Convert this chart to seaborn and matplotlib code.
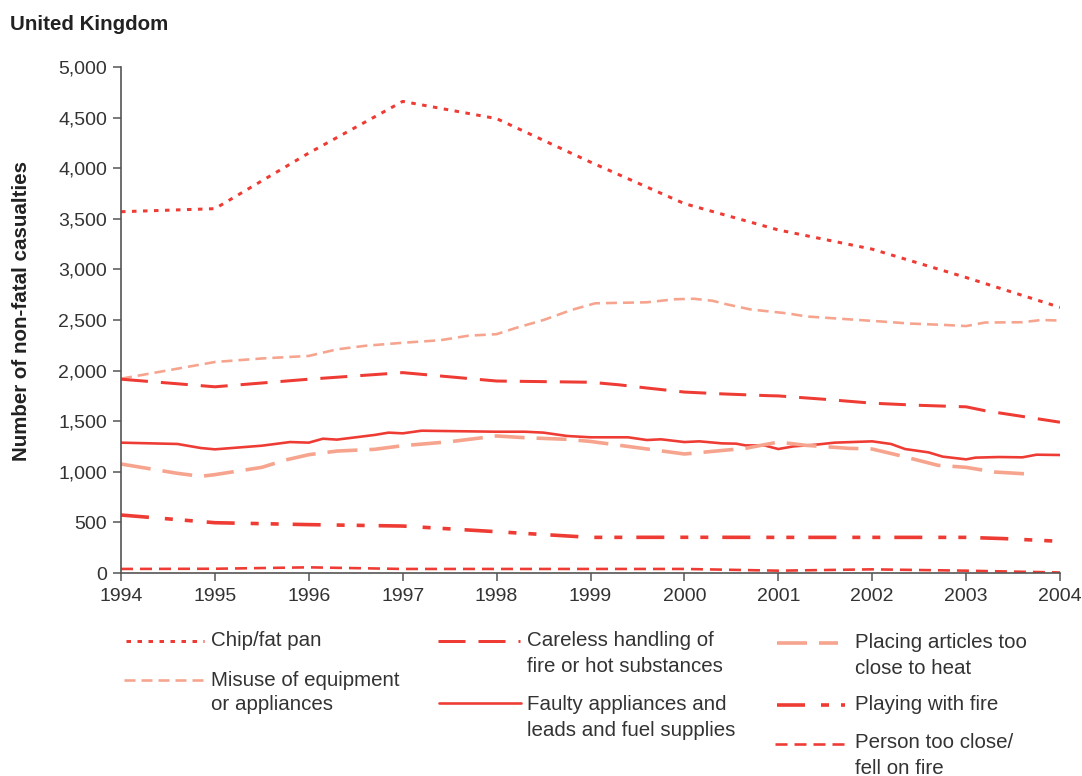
import matplotlib
matplotlib.use("Agg")
import matplotlib.pyplot as plt
from matplotlib.lines import Line2D
from matplotlib.ticker import FuncFormatter, MultipleLocator
import seaborn as sns
import pandas as pd

# ---------------- data ----------------
chip_x = [1994, 1995, 1996, 1997, 1998, 1999, 2000, 2001, 2002, 2003, 2004]
chip_y = [3570, 3600, 4150, 4660, 4490, 4060, 3650, 3390, 3200, 2920, 2625]

misuse_x = [1994, 1995, 1995.5, 1996, 1996.3, 1996.6, 1997, 1997.4, 1997.7, 1998,
            1998.2, 1998.5, 1998.8, 1999.05, 1999.6, 1999.9, 2000.1, 2000.3,
            2000.45, 2000.7, 2001.1, 2001.3, 2001.7, 2002.1, 2002.4, 2002.8,
            2003, 2003.2, 2003.6, 2003.8, 2004]
misuse_y = [1920, 2085, 2120, 2145, 2210, 2245, 2275, 2300, 2345, 2360,
            2420, 2500, 2600, 2665, 2675, 2705, 2710, 2690,
            2655, 2605, 2565, 2535, 2510, 2485, 2465, 2450,
            2440, 2475, 2478, 2500, 2495]

careless_x = [1994, 1995, 1996, 1997, 1998, 1999, 1999.3, 1999.6, 2000, 2000.4,
              2000.9, 2001, 2001.5, 2002, 2002.5, 2003, 2003.2, 2004]
careless_y = [1915, 1840, 1915, 1980, 1897, 1885, 1860, 1828, 1788, 1770,
              1752, 1750, 1716, 1678, 1657, 1642, 1604, 1490]

faulty_x = [1994, 1994.6, 1994.85, 1995, 1995.5, 1995.8, 1996, 1996.15, 1996.3,
            1996.7, 1996.85, 1997, 1997.2, 1998, 1998.3, 1998.5, 1998.75, 1999,
            1999.4, 1999.6, 1999.75, 2000, 2000.16, 2000.4, 2000.55, 2000.65,
            2000.85, 2001, 2001.16, 2001.4, 2001.6, 2002, 2002.2, 2002.35,
            2002.6, 2002.75, 2003, 2003.1, 2003.35, 2003.6, 2003.75, 2004]
faulty_y = [1288, 1275, 1235, 1222, 1258, 1294, 1288, 1327, 1318,
            1364, 1387, 1380, 1406, 1396, 1396, 1387, 1354, 1341,
            1341, 1314, 1321, 1294, 1301, 1281, 1278, 1261,
            1261, 1225, 1251, 1268, 1288, 1301, 1275, 1225,
            1192, 1150, 1123, 1140, 1146, 1143, 1169, 1166]

placing_x = [1994, 1994.6, 1994.85, 1995, 1995.5, 1995.75, 1996, 1996.3, 1996.7,
             1997, 1997.5, 1998, 1998.3, 1998.75, 1999, 1999.55, 2000, 2000.65,
             2001, 2001.3, 2001.75, 2002, 2002.3, 2002.7, 2003, 2003.3, 2003.72]
placing_y = [1077, 985, 955, 972, 1044, 1116, 1169, 1205, 1222,
             1258, 1297, 1354, 1337, 1321, 1300, 1232, 1176, 1232,
             1294, 1261, 1232, 1225, 1159, 1064, 1044, 998, 975]

playing_x = [1994, 1995, 1996, 1997, 1998, 1999, 2000, 2001, 2002, 2003, 2003.4, 2004]
playing_y = [573, 497, 478, 464, 408, 352, 353, 352, 352, 352, 340, 313]

person_x = [1994, 1995, 1996, 1997, 1998, 1999, 2000, 2001, 2002, 2003, 2004]
person_y = [40, 42, 56, 40, 40, 40, 40, 23, 36, 23, 5]

labels = ["Chip/fat pan",
          "Misuse of equipment\nor appliances",
          "Careless handling of\nfire or hot substances",
          "Faulty appliances and\nleads and fuel supplies",
          "Placing articles too\nclose to heat",
          "Playing with fire",
          "Person too close/\nfell on fire"]

x_ticks = list(range(1994, 2005))

# ---------------- styles ----------------
RED = "#EE3B33"
SALMON = "#F6A48E"
PX = 0.72  # points per pixel at 100 dpi

styles = [
    dict(color=RED, lw=3.0, dash=(4.5, 6.5)),
    dict(color=SALMON, lw=2.6, dash=(11, 6)),
    dict(color=RED, lw=3.0, dash=(27, 13)),
    dict(color=RED, lw=2.6, dash=None),
    dict(color=SALMON, lw=3.6, dash=(30, 12)),
    dict(color=RED, lw=3.6, dash=(28, 16, 8, 12, 8, 14)),
    dict(color=RED, lw=2.6, dash=(12, 7)),
]

def ls_of(st):
    if st["dash"] is None:
        return "-"
    return (0, tuple(v * PX for v in st["dash"]))

series = [(chip_x, chip_y), (misuse_x, misuse_y), (careless_x, careless_y),
          (faulty_x, faulty_y), (placing_x, placing_y), (playing_x, playing_y),
          (person_x, person_y)]

sns.set_theme(style="white")
plt.rcParams["font.family"] = ["Liberation Sans", "DejaVu Sans"]
plt.rcParams["lines.scale_dashes"] = False

TXT = "#333333"
FS_TICK = 14
FS_LEG = 14.8
FS_TITLE = 14.8

fig = plt.figure(figsize=(10.82, 7.76), dpi=100)
ax = fig.add_axes([121 / 1082, 1 - 573 / 776, (1060 - 121) / 1082, (573 - 67) / 776])

for (xs, ys), lab, st in zip(series, labels, styles):
    df = pd.DataFrame({"year": xs, "value": ys})
    sns.lineplot(data=df, x="year", y="value", ax=ax, color=st["color"],
                 linewidth=st["lw"] * PX, linestyle=ls_of(st), errorbar=None,
                 sort=False, label=None)

ax.set_xlim(1994, 2004)
ax.set_ylim(0, 5000)
ax.set_xticks(x_ticks)
ax.yaxis.set_major_locator(MultipleLocator(500))
ax.yaxis.set_major_formatter(FuncFormatter(lambda v, p: f"{v:,.0f}"))
ax.set_xlabel("")
ax.set_ylabel("")
for s in ["top", "right"]:
    ax.spines[s].set_visible(False)
for s in ["left", "bottom"]:
    ax.spines[s].set_color("#555555")
    ax.spines[s].set_linewidth(1.2)
ax.tick_params(axis="both", direction="out", length=6, width=1.1, color="#555555",
               labelsize=FS_TICK, labelcolor=TXT, left=True, bottom=True)
ax.tick_params(axis="x", pad=5)
ax.tick_params(axis="y", pad=4)
if ax.get_legend() is not None:
    ax.get_legend().remove()

fig.text(10 / 1082, 1 - 25 / 776, "United Kingdom", fontsize=FS_TITLE, fontweight="bold",
         color="#222222", ha="left", va="center")
fig.text(22 / 1082, 1 - 311 / 776, "Number of non-fatal casualties", fontsize=FS_TITLE,
         fontweight="bold", color="#222222", rotation=90, ha="center", va="center")

# ---------------- legend (three columns) ----------------
# (x0, x1, y handle, x text, y text first line) in pixels
leg_pos = [
    (126, 204, 641, 211, 641),
    (124, 205, 680, 211, 680),
    (438, 520, 641, 527, 641),
    (439, 521, 703, 527, 705),
    (777, 838, 643, 855, 643),
    (777, 845, 705, 855, 705),
    (775, 850, 744, 855, 743),
]
W, H = 1082, 776
for (x0, x1, yh, xt, yt), lab, st in zip(leg_pos, labels, styles):
    fig.add_artist(Line2D([x0 / W, x1 / W], [1 - yh / H, 1 - yh / H],
                          transform=fig.transFigure, color=st["color"],
                          linewidth=st["lw"] * PX, linestyle=ls_of(st)))
    for i, line in enumerate(lab.split("\n")):
        fig.text(xt / W, 1 - (yt + 25 * i) / H, line, fontsize=FS_LEG, color=TXT,
                 ha="left", va="center")

fig.savefig("out.png", dpi=100)
